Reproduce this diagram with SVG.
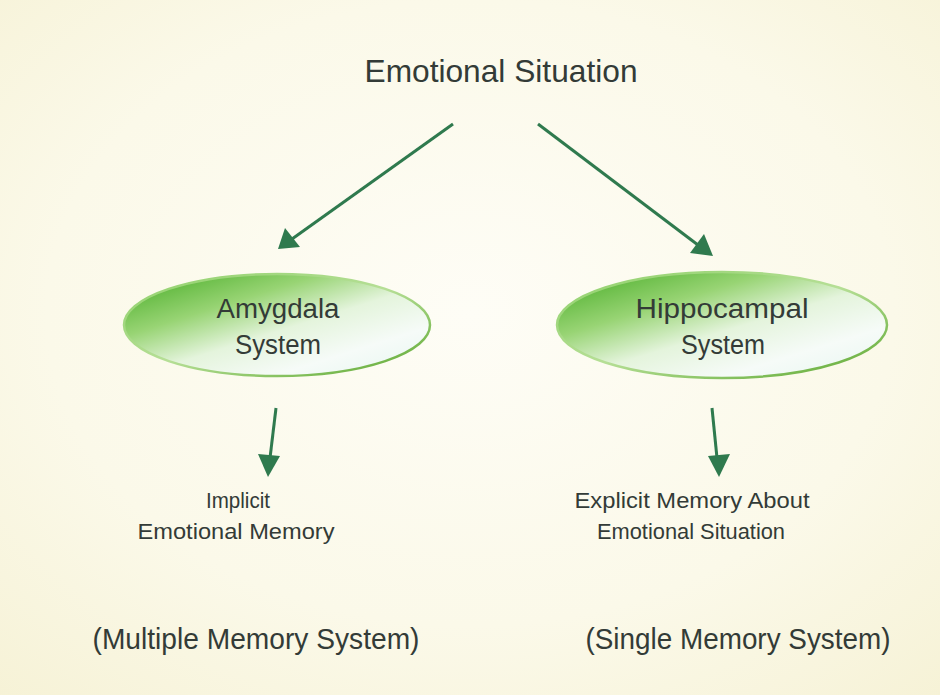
<svg xmlns="http://www.w3.org/2000/svg" width="940" height="695" viewBox="0 0 940 695">
  <defs>
    <radialGradient id="bg" cx="0.5" cy="0.45" r="0.75">
      <stop offset="0" stop-color="#fefdf6"/>
      <stop offset="0.6" stop-color="#fbf9e9"/>
      <stop offset="1" stop-color="#f6f2d6"/>
    </radialGradient>
    <linearGradient id="pod" x1="0" y1="0.1" x2="0.85" y2="1">
      <stop offset="0" stop-color="#4fb02e"/>
      <stop offset="0.3" stop-color="#98d474"/>
      <stop offset="0.55" stop-color="#e4f4dc"/>
      <stop offset="0.8" stop-color="#f6fbf8"/>
      <stop offset="1" stop-color="#eaf7f2"/>
    </linearGradient>
    <linearGradient id="rim" x1="0" y1="0" x2="1" y2="1">
      <stop offset="0" stop-color="#8fd06a"/>
      <stop offset="0.5" stop-color="#b6df96"/>
      <stop offset="1" stop-color="#5aa62e"/>
    </linearGradient>
    <style>
      .lbl { font-family: "Liberation Sans", "DejaVu Sans", sans-serif; fill: #333b37; text-anchor: middle; }
      .pod { fill: url(#pod); stroke: url(#rim); stroke-width: 2.5; }
      .arrow { stroke: #2f7a4e; stroke-width: 3; fill: none; }
      .head { fill: #2f7a4e; }
    </style>
  </defs>

  <rect width="940" height="695" fill="url(#bg)"/>

  <!-- top heading -->
  <g id="situation">
    <text class="lbl" x="501" y="82" font-size="32" textLength="273" lengthAdjust="spacingAndGlyphs">Emotional Situation</text>
  </g>

  <!-- system nodes -->
  <g id="amygdala">
    <ellipse class="pod" cx="277" cy="325" rx="153" ry="51"/>
    <text class="lbl" x="278" y="318" font-size="27" textLength="123" lengthAdjust="spacingAndGlyphs">Amygdala</text>
    <text class="lbl" x="278" y="354" font-size="27" textLength="86" lengthAdjust="spacingAndGlyphs">System</text>
  </g>
  <g id="hippocampal">
    <ellipse class="pod" cx="722" cy="325" rx="165" ry="53"/>
    <text class="lbl" x="722" y="318" font-size="27" textLength="173" lengthAdjust="spacingAndGlyphs">Hippocampal</text>
    <text class="lbl" x="723" y="354" font-size="27" textLength="84" lengthAdjust="spacingAndGlyphs">System</text>
  </g>

  <!-- outcome labels -->
  <g id="implicit">
    <text class="lbl" x="238" y="508" font-size="22" textLength="64" lengthAdjust="spacingAndGlyphs">Implicit</text>
    <text class="lbl" x="236" y="539" font-size="22" textLength="197" lengthAdjust="spacingAndGlyphs">Emotional Memory</text>
  </g>
  <g id="explicit">
    <text class="lbl" x="692" y="508" font-size="22" textLength="235" lengthAdjust="spacingAndGlyphs">Explicit Memory About</text>
    <text class="lbl" x="691" y="539" font-size="22" textLength="188" lengthAdjust="spacingAndGlyphs">Emotional Situation</text>
  </g>

  <!-- system type captions -->
  <g id="multiple">
    <text class="lbl" x="256" y="649" font-size="29" textLength="327" lengthAdjust="spacingAndGlyphs">(Multiple Memory System)</text>
  </g>
  <g id="single">
    <text class="lbl" x="738" y="649" font-size="29" textLength="305" lengthAdjust="spacingAndGlyphs">(Single Memory System)</text>
  </g>

  <!-- connectors -->
  <g id="connectors">
    <line class="arrow" x1="453" y1="124" x2="292" y2="239"/>
    <polygon class="head" points="278,249 285,228 300,247"/>
    <line class="arrow" x1="538" y1="124" x2="698" y2="245"/>
    <polygon class="head" points="713,256 690,253 704,234"/>
    <line class="arrow" x1="276" y1="408" x2="270" y2="458"/>
    <polygon class="head" points="268,477 258,454 280,456"/>
    <line class="arrow" x1="712" y1="408" x2="717" y2="458"/>
    <polygon class="head" points="719,477 708,456 730,454"/>
  </g>
</svg>
